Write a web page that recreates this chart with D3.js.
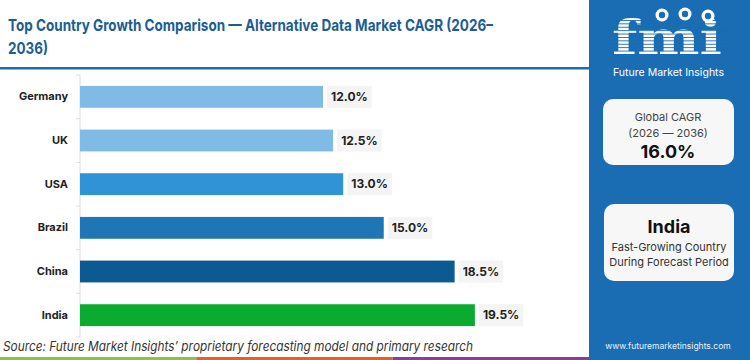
<!DOCTYPE html>
<html><head><meta charset="utf-8">
<script src="https://cdn.jsdelivr.net/npm/d3@7"></script>
<style>body{margin:0;background:#fff}svg{display:block}</style>
</head><body><svg id="c" width="750" height="360"></svg>
<script>
const countries = ["Germany", "UK", "USA", "Brazil", "China", "India"];
const cagr = [12.0, 12.5, 13.0, 15.0, 18.5, 19.5];
const barColors = ["#7fbbe4", "#7fbbe4", "#2f93d6", "#1f76b4", "#0b5a91", "#0aab2f"];
const titleLines = ["Top Country Growth Comparison — Alternative Data Market CAGR (2026–", "2036)"];
const sourceText = "Source: Future Market Insights’ proprietary forecasting model and primary research";
const globalCard = ["Global CAGR", "(2026 — 2036)", "16.0%"];
const leaderCard = ["India", "Fast-Growing Country", "During Forecast Period"];
const brandName = "Future Market Insights";
const website = "www.futuremarketinsights.com";
const stripColors = ["#8bc34a", "#e2622b", "#8e3c9b"];

const svg = d3.select("#c");
const W = 750, H = 360, panelX = 589;
const BLUE = "#1a6db3";
const FONT = "Inter, 'Open Sans', sans-serif";

// right panel
svg.append("rect").attr("x", panelX).attr("y", 0).attr("width", W - panelX).attr("height", H).attr("fill", BLUE);

// title
svg.selectAll("text.title").data(titleLines).join("text")
  .attr("class", "title")
  .attr("x", 8).attr("y", (d, i) => 31 + i * 23)
  .attr("font-family", FONT).attr("font-weight", 700).attr("font-size", 16.5)
  .attr("fill", "#1b5e93")
  .attr("textLength", (d, i) => i === 0 ? 485 : 40)
  .attr("lengthAdjust", "spacingAndGlyphs")
  .text(d => d);
svg.append("rect").attr("x", 0).attr("y", 67).attr("width", panelX).attr("height", 2.5).attr("fill", BLUE);

// scales
const x = d3.scaleLinear().domain([0, 24]).range([80, 566]);
const y = d3.scaleBand().domain(countries).range([75, 337]).paddingInner(0.5).paddingOuter(0.25);

// axis line + boundary ticks
const g = svg.append("g");
g.append("line").attr("x1", 80).attr("x2", 80).attr("y1", 75).attr("y2", 337).attr("stroke", "#dcdcdc");
const bounds = d3.range(0, countries.length + 1).map(k => 75 + k * y.step());
g.selectAll("line.tk").data(bounds).join("line").attr("class", "tk")
  .attr("x1", 76).attr("x2", 80).attr("y1", d => d).attr("y2", d => d).attr("stroke", "#dcdcdc");

// category labels via axis
const ax = svg.append("g").attr("transform", "translate(72,0)")
  .call(d3.axisLeft(y).tickSize(0).tickPadding(4));
ax.select(".domain").remove();
ax.selectAll("text").attr("font-family", FONT).attr("font-weight", 700).attr("font-size", 11)
  .attr("fill", "#222");

// bars
const data = countries.map((c, i) => ({ c, v: cagr[i], col: barColors[i] }));
svg.selectAll("rect.bar").data(data).join("rect").attr("class", "bar")
  .attr("x", x(0)).attr("y", d => y(d.c))
  .attr("width", d => x(d.v) - x(0)).attr("height", y.bandwidth())
  .attr("fill", d => d.col);

// value labels
const lg = svg.selectAll("g.lbl").data(data).join("g").attr("class", "lbl");
const lt = lg.append("text")
  .attr("x", d => x(d.v) + 8).attr("y", d => y(d.c) + y.bandwidth() / 2)
  .attr("dy", "0.36em")
  .attr("font-family", FONT).attr("font-weight", 700).attr("font-size", 12)
  .attr("fill", "#222").text(d => d.v.toFixed(1) + "%");
lt.each(function (d) {
  const w = this.getComputedTextLength();
  d3.select(this.parentNode).insert("rect", "text")
    .attr("x", x(d.v) + 4).attr("y", y(d.c) + y.bandwidth() / 2 - 11)
    .attr("width", w + 8).attr("height", 22).attr("fill", "#f4f4f4");
});

// source
svg.append("text").attr("x", 3).attr("y", 351)
  .attr("font-family", FONT).attr("font-style", "italic").attr("font-size", 13)
  .attr("fill", "#333").attr("textLength", 470).attr("lengthAdjust", "spacingAndGlyphs")
  .text(sourceText);

// bottom strip
const sw = panelX / stripColors.length;
svg.selectAll("rect.strip").data(stripColors).join("rect").attr("class", "strip")
  .attr("x", (d, i) => i * sw).attr("y", 357).attr("width", sw).attr("height", 3).attr("fill", d => d);

// logo
const logo = svg.append("g");
logo.append("text").attr("x", 612).attr("y", 54)
  .attr("font-family", "'DejaVu Serif', serif").attr("font-weight", 700).attr("font-size", 47)
  .attr("fill", "#fff").attr("textLength", 110).attr("lengthAdjust", "spacingAndGlyphs").text("fmi");
logo.selectAll("rect.stripe").data(d3.range(20, 55, 3.4)).join("rect").attr("class", "stripe")
  .attr("x", 605).attr("y", d => d).attr("width", 125).attr("height", 0.9).attr("fill", BLUE);
const globes = [[662, 15], [685, 14], [708, 16]];
logo.selectAll("circle.out").data(globes).join("circle").attr("class", "out")
  .attr("cx", d => d[0]).attr("cy", d => d[1]).attr("r", 6.5).attr("fill", "#fff");
logo.selectAll("circle.in").data(globes).join("circle").attr("class", "in")
  .attr("cx", d => d[0]).attr("cy", d => d[1]).attr("r", 3.2).attr("fill", BLUE);
logo.append("text").attr("x", 613).attr("y", 75.5)
  .attr("font-family", FONT).attr("font-size", 10.5).attr("fill", "#fff")
  .attr("textLength", 111).attr("lengthAdjust", "spacingAndGlyphs").text(brandName);

// cards
function card(x0, y0, w, h) {
  svg.append("rect").attr("x", x0).attr("y", y0).attr("width", w).attr("height", h)
    .attr("rx", 10).attr("fill", "#f7f7f7");
}
card(603, 99, 131, 66);
const cx = 668;
svg.append("text").attr("x", cx).attr("y", 121).attr("text-anchor", "middle")
  .attr("font-family", FONT).attr("font-size", 11).attr("fill", "#444").text(globalCard[0]);
svg.append("text").attr("x", cx).attr("y", 137).attr("text-anchor", "middle")
  .attr("font-family", FONT).attr("font-size", 11).attr("fill", "#444").text(globalCard[1]);
svg.append("text").attr("x", cx).attr("y", 158).attr("text-anchor", "middle")
  .attr("font-family", FONT).attr("font-weight", 700).attr("font-size", 18).attr("fill", "#111").text(globalCard[2]);

card(604, 204, 130, 77);
svg.append("text").attr("x", 669).attr("y", 233).attr("text-anchor", "middle")
  .attr("font-family", FONT).attr("font-weight", 700).attr("font-size", 18).attr("fill", "#111").text(leaderCard[0]);
svg.append("text").attr("x", 669).attr("y", 251).attr("text-anchor", "middle")
  .attr("font-family", FONT).attr("font-size", 11).attr("fill", "#333").text(leaderCard[1]);
svg.append("text").attr("x", 669).attr("y", 266).attr("text-anchor", "middle")
  .attr("font-family", FONT).attr("font-size", 11).attr("fill", "#333").text(leaderCard[2]);

svg.append("text").attr("x", 668).attr("y", 349).attr("text-anchor", "middle")
  .attr("font-family", FONT).attr("font-size", 8.5).attr("fill", "#e8f1fa").text(website);
</script></body></html>
